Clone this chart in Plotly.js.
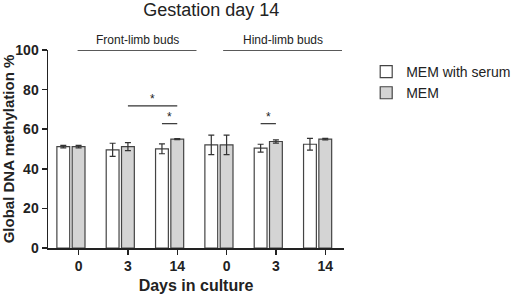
<!DOCTYPE html>
<html><head><meta charset="utf-8">
<script src="https://cdn.plot.ly/plotly-3.0.1.min.js"></script>
<style>html,body{margin:0;padding:0;background:#fff}#chart{width:528px;height:297px}</style>
</head><body><div id="chart"></div>
<script>
const tickLabels = ["0","3","14","0","3","14"];
const groupPos = [0,1,2,3,4,5];
const serumVals = [51.2, 49.6, 50.1, 52.1, 50.4, 52.4];
const serumErr  = [0.6, 3.3, 2.5, 4.9, 2.0, 3.0];
const memVals   = [51.2, 51.2, 55.0, 52.1, 53.8, 55.0];
const memErr    = [0.6, 2.0, 0.3, 4.9, 0.8, 0.4];
const offset = 0.31;
const barW = 0.26;
const serumX = groupPos.map(p => p - offset);

const lineStyle = {color:'#333', width:1.2};
const traces = [
  {type:'bar', name:'MEM with serum', x:serumX, y:serumVals, width:barW,
   marker:{color:'#ffffff', line:{color:'#444', width:1.2}},
   error_y:{type:'data', array:serumErr, visible:true, color:'#333', thickness:1.2, width:3}},
  {type:'bar', name:'MEM', x:groupPos, y:memVals, width:barW,
   marker:{color:'#d4d4d4', line:{color:'#444', width:1.2}},
   error_y:{type:'data', array:memErr, visible:true, color:'#333', thickness:1.2, width:3}}
];

// significance brackets [x0, x1, y]
const sigLines = [[1, 2, 71.8],[2 - offset, 2, 62.8],[4 - offset, 4, 62.8]];
// group headers [x0, x1, label]
const groups = [[-0.02, 2.39, "Front-limb buds"],[2.93, 5.34, "Hind-limb buds"]];

const shapes = [];
const annotations = [];
sigLines.forEach(s => {
  shapes.push({type:'line', xref:'x', yref:'y', x0:s[0], x1:s[1], y0:s[2], y1:s[2], line:lineStyle});
  annotations.push({xref:'x', yref:'y', x:(s[0]+s[1])/2, y:s[2], text:'*', showarrow:false,
    yanchor:'bottom', yshift:-2, font:{size:12, color:'#222'}});
});
groups.forEach(g => {
  shapes.push({type:'line', xref:'x', yref:'y', x0:g[0], x1:g[1], y0:100, y1:100, line:{color:'#222', width:1.5}});
  annotations.push({xref:'x', yref:'y', x:(g[0]+g[1])/2, y:100, text:g[2], showarrow:false,
    yanchor:'bottom', yshift:1, font:{size:12, color:'#222'}});
});

const layout = {
  width:528, height:297,
  margin:{l:48, r:181, t:50, b:49},
  paper_bgcolor:'#fff', plot_bgcolor:'#fff',
  font:{family:'Liberation Sans, Arial, sans-serif', color:'#222'},
  title:{text:'Gestation day 14', x:0.4, xanchor:'center', y:0.99, yanchor:'top', font:{size:18, color:'#222'}},
  barmode:'overlay',
  showlegend:true,
  legend:{x:1.075, y:0.97, xanchor:'left', yanchor:'top', font:{size:14, color:'#222'}, tracegroupgap:0, itemwidth:30, bgcolor:'rgba(0,0,0,0)'},
  xaxis:{range:[-0.62, 5.38], tickvals:groupPos, ticktext:tickLabels.map(t=>'<b>'+t+'</b>'),
    showgrid:false, zeroline:false, showline:true, linecolor:'#222', linewidth:1.5,
    ticks:'outside', ticklen:5, tickwidth:1.5, tickcolor:'#222', tickfont:{size:14, color:'#222'},
    title:{text:'<b>Days in culture</b>', font:{size:16, color:'#222'}, standoff:6}},
  yaxis:{range:[0,100], tickvals:[0,20,40,60,80,100], showgrid:false, zeroline:false,
    showline:true, linecolor:'#222', linewidth:1.5, ticks:'outside', ticklen:5, tickwidth:1.5, tickcolor:'#222',
    ticktext:['0','20','40','60','80','100'].map(t=>'<b>'+t+'</b>'),
    tickfont:{size:14, color:'#222'},
    title:{text:'<b>Global DNA methylation %</b>', font:{size:15, color:'#222'}, standoff:4}},
  shapes:shapes, annotations:annotations
};
Plotly.newPlot('chart', traces, layout, {staticPlot:true, displayModeBar:false});
</script></body></html>
